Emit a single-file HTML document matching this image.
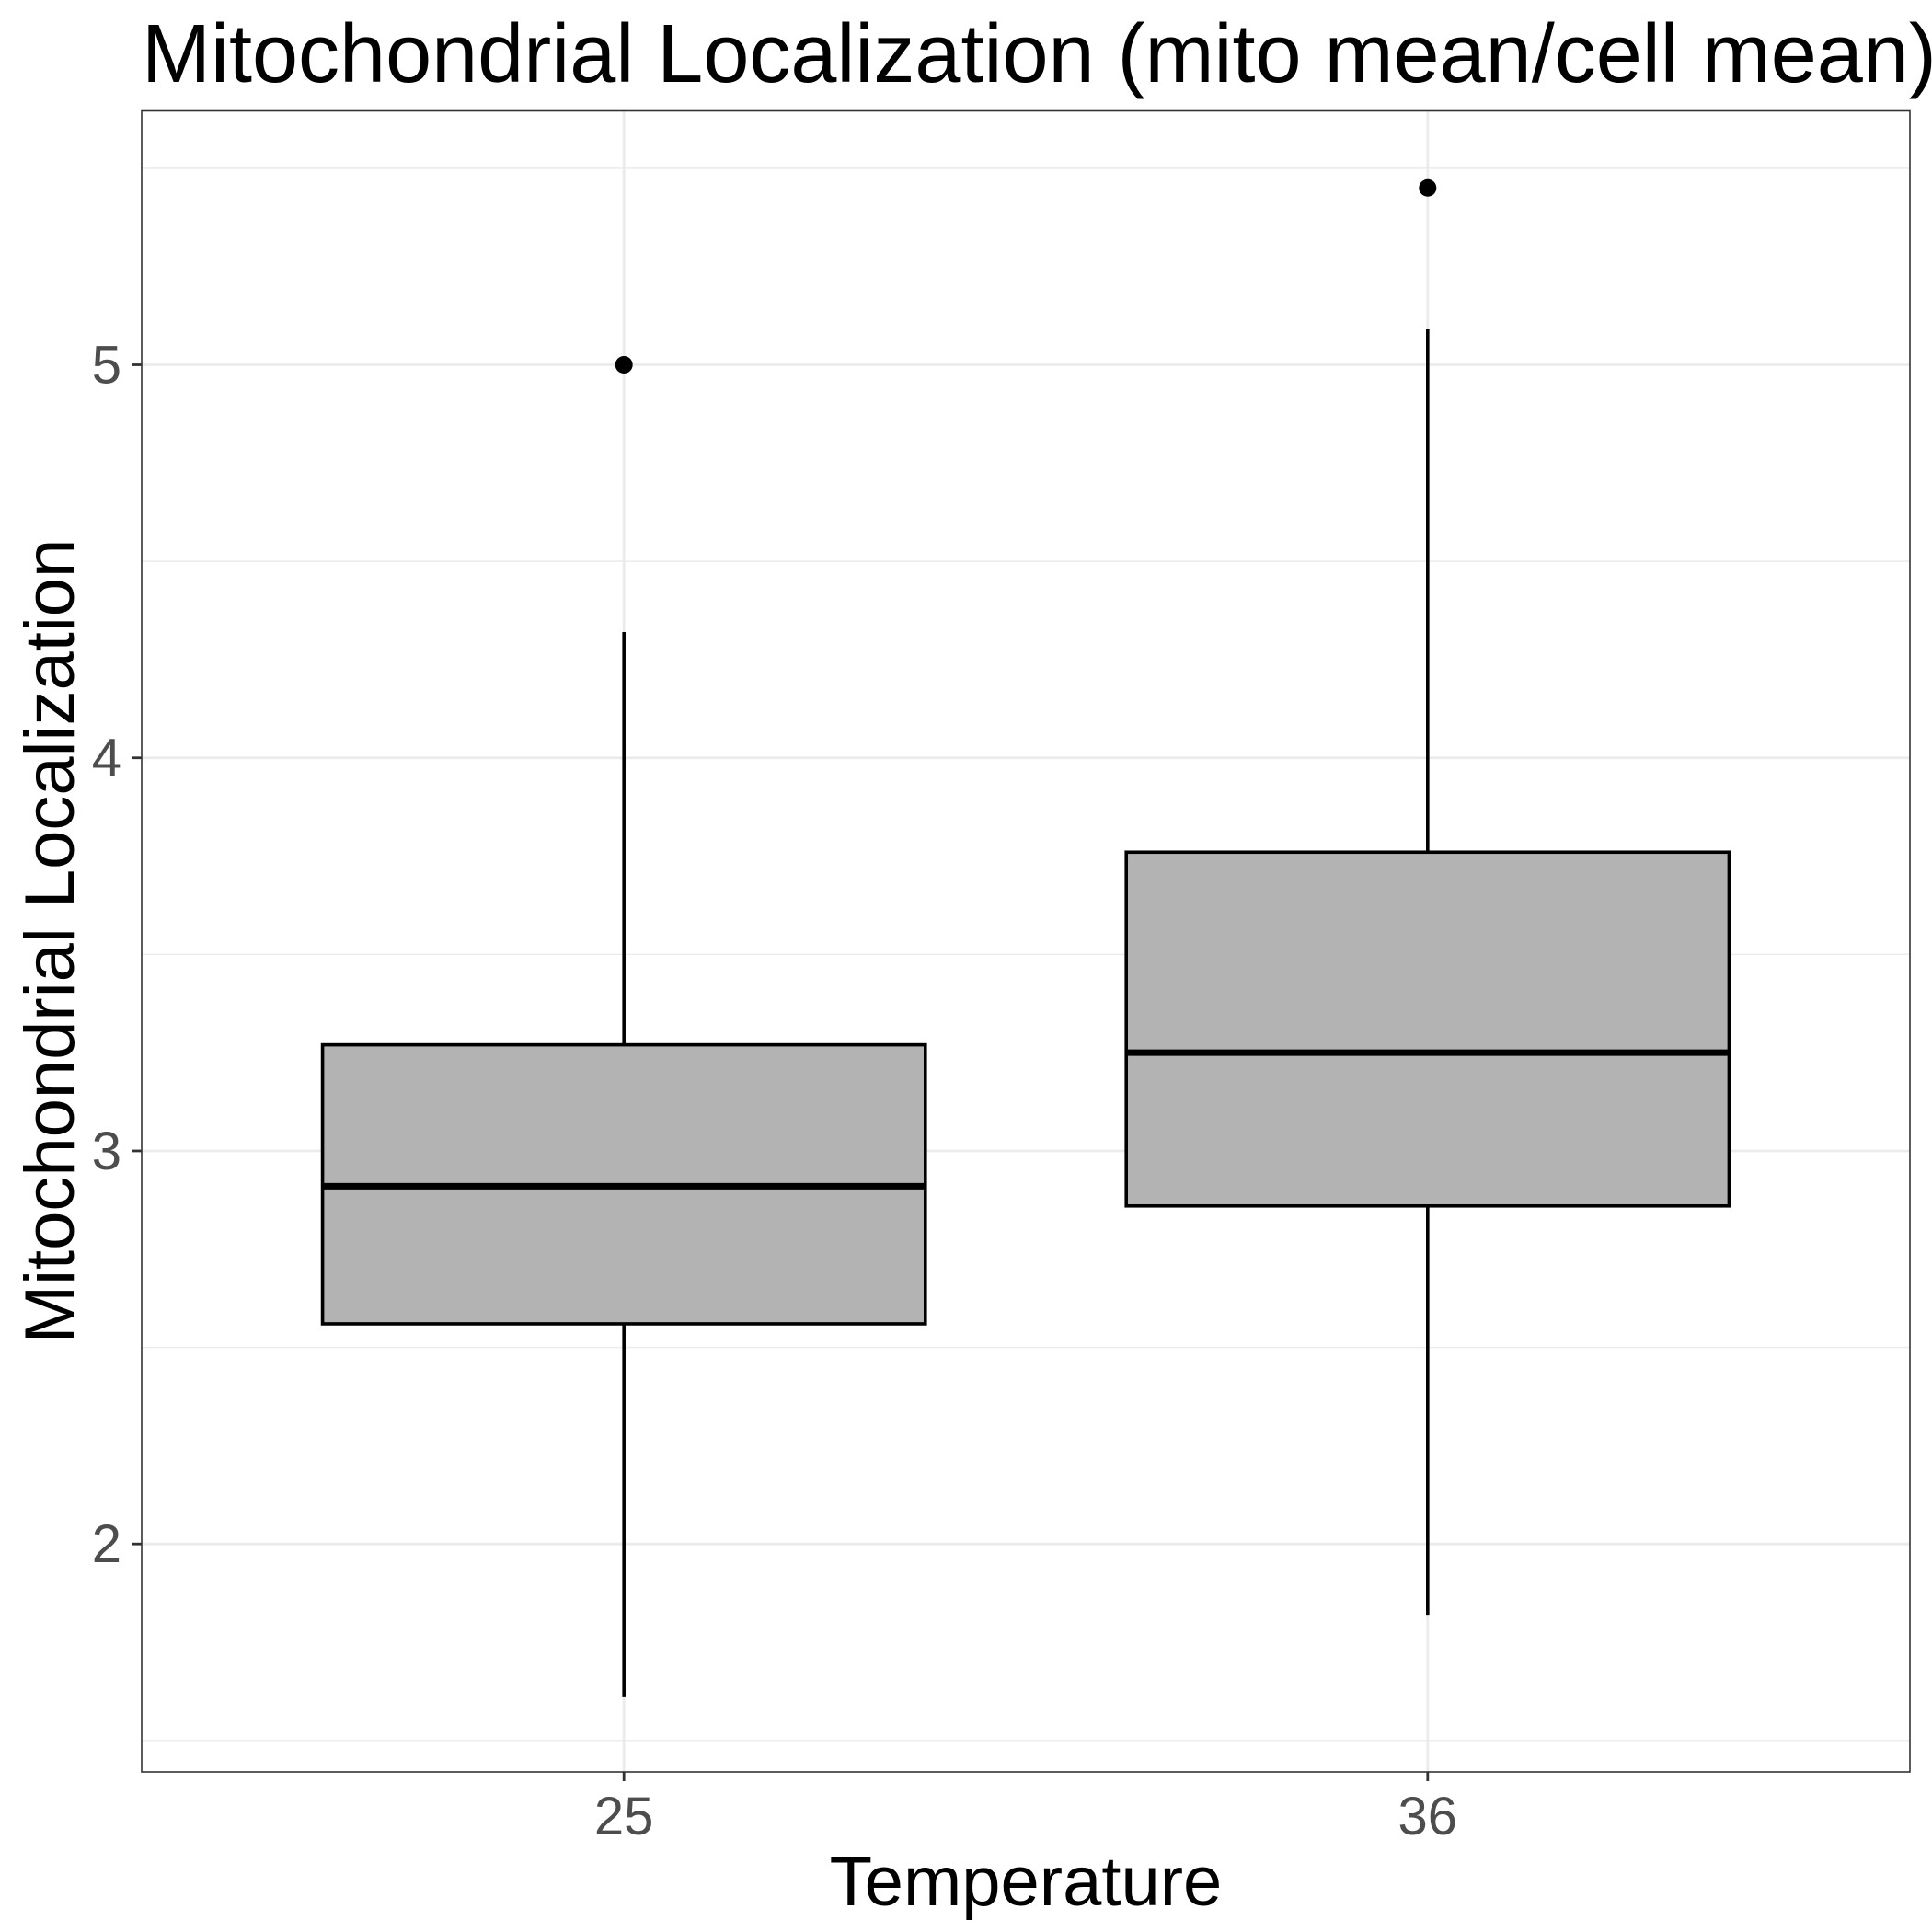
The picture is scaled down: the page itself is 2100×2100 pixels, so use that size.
<!DOCTYPE html>
<html><head><meta charset="utf-8"><style>
html,body{margin:0;padding:0;background:#fff;}
svg{display:block;font-family:"Liberation Sans",Arial,sans-serif;}
</style></head><body>
<svg id="chart" width="2100" height="2100" viewBox="0 0 2100 2100">
<text x="154" y="89" font-size="90" fill="#000">Mitochondrial Localization (mito mean/cell mean)</text>
<g id="grid"></g>
<g id="marks"></g>
<rect x="154" y="120.5" width="1922" height="1805.5" fill="none" stroke="#333" stroke-width="1.6"/>
<g id="axes"></g>
<text x="1115" y="2071" font-size="76" text-anchor="middle" fill="#000">Temperature</text>
<text transform="translate(80,1023) rotate(-90)" font-size="76" text-anchor="middle" fill="#000">Mitochondrial Localization</text>
</svg>
<script>
const categories = ["25", "36"];
const whiskerLow = [1.61, 1.82];
const q1 = [2.56, 2.86];
const median = [2.91, 3.25];
const q3 = [3.27, 3.76];
const whiskerHigh = [4.32, 5.09];
const outliers = [[5.0], [5.45]];
const yTicks = [2, 3, 4, 5];
const yMinor = [1.5, 2.5, 3.5, 4.5, 5.5];

const NS = "http://www.w3.org/2000/svg";
const L = 154, R = 2076, T = 120.5, B = 1926;
const yMin = 1.42, yMax = 5.646;
function y(v){ return B - (v - yMin) / (yMax - yMin) * (B - T); }
function x(i){ return L + (i + 1 - 0.4) / 2.2 * (R - L); }
const bw = 0.75 / 2.2 * (R - L);
function mk(tag, attrs, parent){
  const e = document.createElementNS(NS, tag);
  for (const k in attrs) e.setAttribute(k, attrs[k]);
  parent.appendChild(e);
  return e;
}
const grid = document.getElementById("grid"), marks = document.getElementById("marks"), axes = document.getElementById("axes");
yMinor.forEach(v => {
  const l = mk("line", {x1:L, x2:R, y1:y(v), y2:y(v), stroke:"#ebebeb", "stroke-width":1.4}, grid);
  
  
});
yTicks.forEach(v => {
  const l = mk("line", {x1:L, x2:R, y1:y(v), y2:y(v), stroke:"#ebebeb", "stroke-width":2.8}, grid);
  
  
  const t = mk("line", {x1:L-10, x2:L, y1:y(v), y2:y(v), stroke:"#333", "stroke-width":2.8}, axes);
  
  
  const tx = mk("text", {x:L-22, y:y(v)+20, "font-size":58, "text-anchor":"end", fill:"#4d4d4d"}, axes);
  tx.textContent = v;
  
  
});
categories.forEach((c, i) => {
  const cx = x(i);
  const g = mk("line", {x1:cx, x2:cx, y1:T, y2:B, stroke:"#ebebeb", "stroke-width":2.8}, grid);
  
  
  const t = mk("line", {x1:cx, x2:cx, y1:B, y2:B+10, stroke:"#333", "stroke-width":2.8}, axes);
  
  
  const tx = mk("text", {x:cx, y:B+68, "font-size":58, "text-anchor":"middle", fill:"#4d4d4d"}, axes);
  tx.textContent = c;
  
  
  const w1 = mk("line", {x1:cx, x2:cx, y1:y(q3[i]), y2:y(whiskerHigh[i]), stroke:"#000", "stroke-width":3.6}, marks);
  
  
  const w2 = mk("line", {x1:cx, x2:cx, y1:y(q1[i]), y2:y(whiskerLow[i]), stroke:"#000", "stroke-width":3.6}, marks);
  
  
  const box = mk("rect", {x:cx-bw/2, y:y(q3[i]), width:bw, height:y(q1[i])-y(q3[i]), fill:"#b3b3b3", stroke:"#000", "stroke-width":3.6}, marks);
  
  
  const md = mk("line", {x1:cx-bw/2, x2:cx+bw/2, y1:y(median[i]), y2:y(median[i]), stroke:"#000", "stroke-width":7}, marks);
  
  
  outliers[i].forEach(o => {
    const p = mk("circle", {cx:cx, cy:y(o), r:9.5, fill:"#000"}, marks);
    
    
  });
});
</script>
</body></html>
